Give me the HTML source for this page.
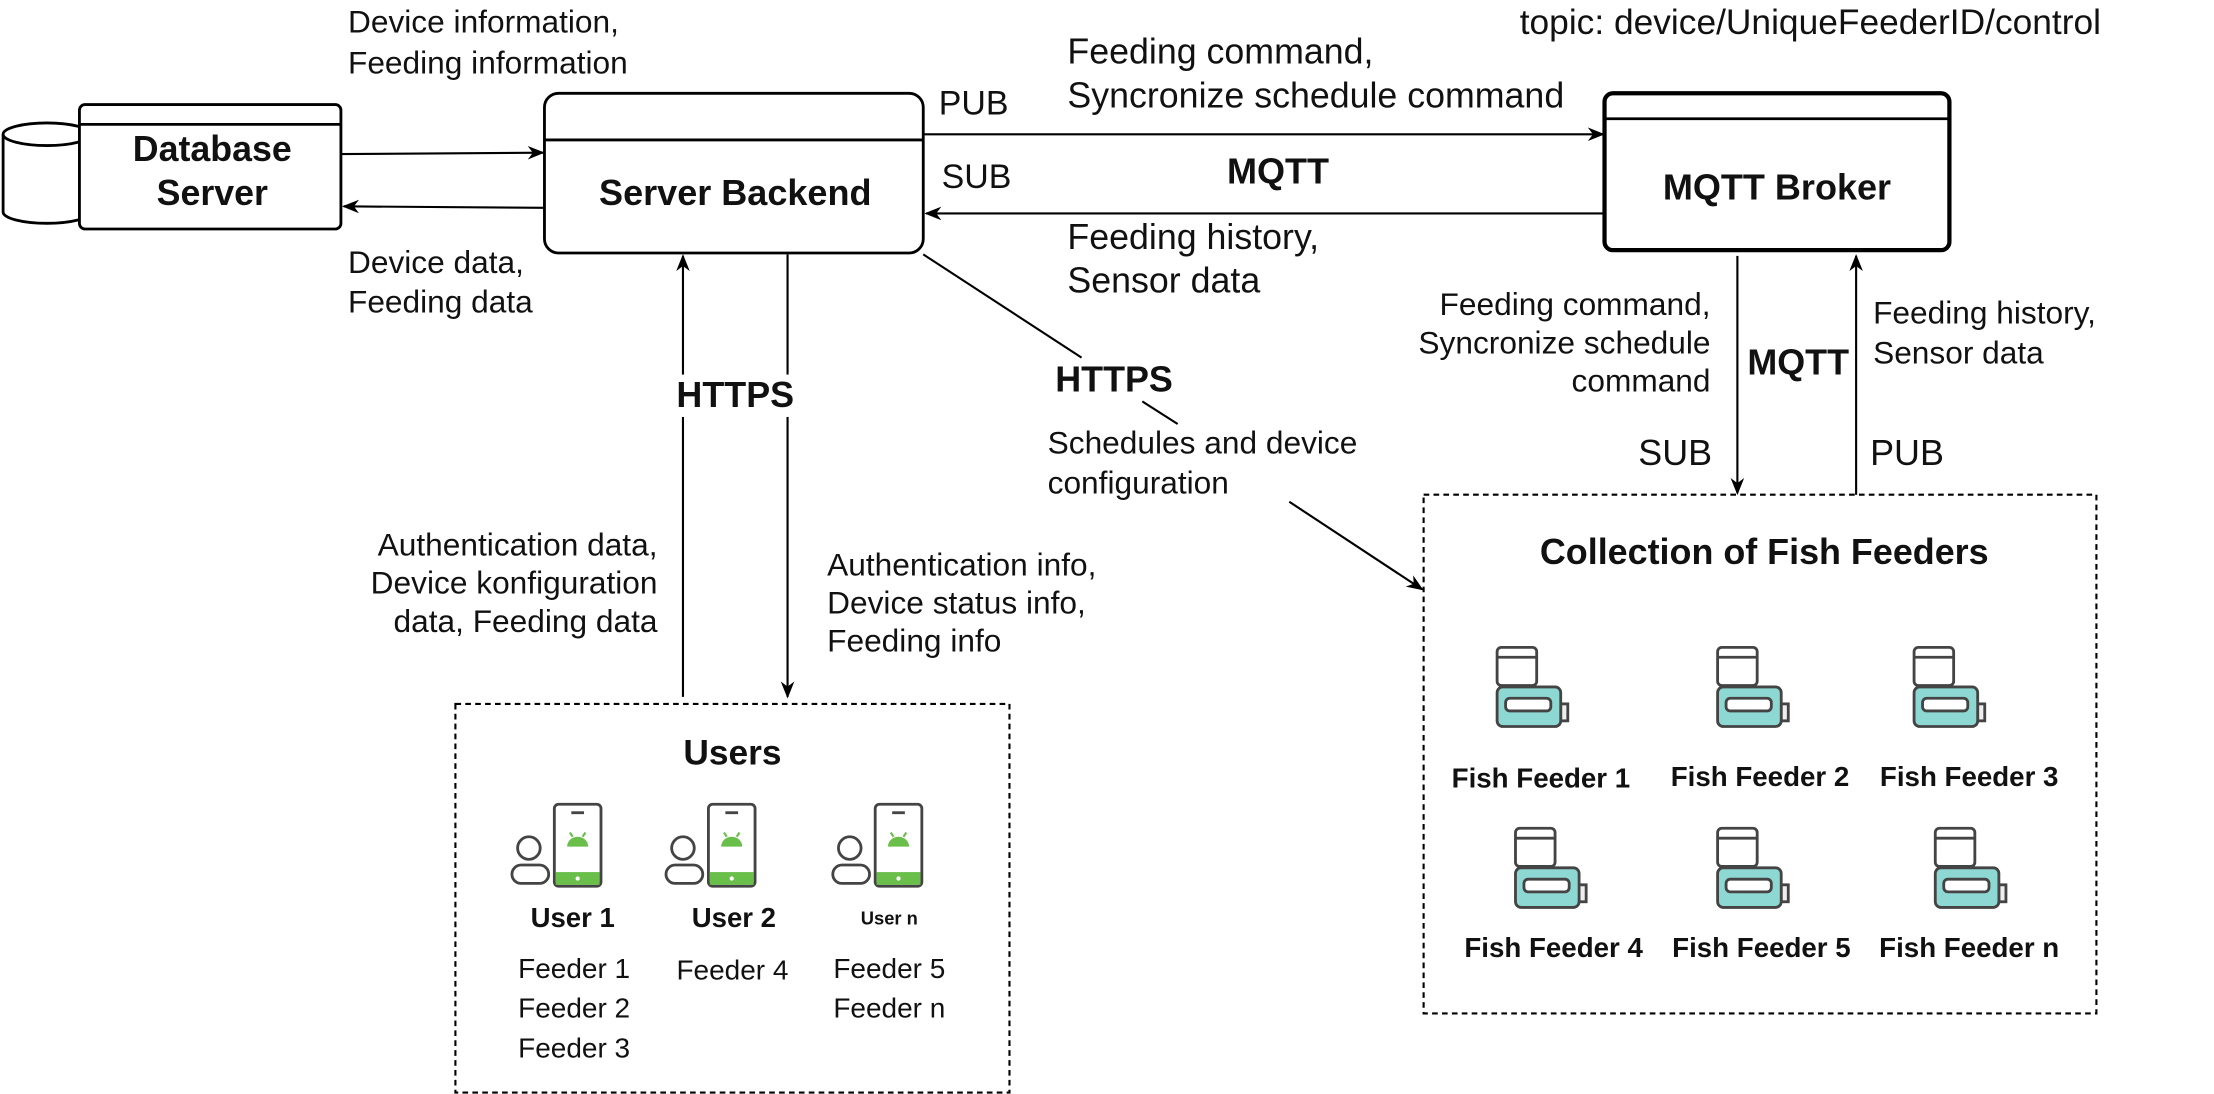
<!DOCTYPE html>
<html><head><meta charset="utf-8"><style>
html,body{margin:0;padding:0;background:#fff;}
svg{display:block;}
text{font-family:"Liberation Sans",Arial,sans-serif;fill:#111;}
.n{font-size:22.4px;}
.b{font-weight:bold;}
</style></head><body>
<svg width="2214" height="1094" viewBox="0 0 1566 774" xmlns="http://www.w3.org/2000/svg">
<defs>
<marker id="ar" viewBox="0 0 10 10" refX="9" refY="5" markerWidth="8" markerHeight="8" orient="auto"><path d="M0,1 L10,5 L0,9 L3,5 Z" fill="#000"/></marker>
<g id="feeder" stroke="#444" stroke-width="2">
<rect x="0" y="0" width="28" height="27" rx="3" fill="#fff"/>
<line x1="0" y1="7" x2="28" y2="7"/>
<rect x="45" y="40" width="5" height="12" fill="#eee"/>
<rect x="0" y="28" width="45" height="28" rx="4" fill="#8ed8d3"/>
<rect x="6" y="36" width="32" height="9" rx="3" fill="#fff"/>
</g>
<g id="user">
<circle cx="13" cy="31" r="8" fill="none" stroke="#444" stroke-width="2"/>
<rect x="1" y="43" width="26" height="13" rx="6.5" fill="none" stroke="#444" stroke-width="2"/>
<rect x="31" y="0" width="33" height="58" rx="3" fill="#fff" stroke="#444" stroke-width="2"/>
<rect x="32" y="48" width="31" height="9" fill="#6abf4b"/>
<circle cx="47.5" cy="52.5" r="1.5" fill="#fff"/>
<line x1="43" y1="6" x2="52" y2="6" stroke="#444" stroke-width="2"/>
<path d="M40,30 a7.5,7 0 0 1 15,0 Z" fill="#6abf4b"/>
<line x1="42" y1="20" x2="44" y2="23" stroke="#6abf4b" stroke-width="1.5"/>
<line x1="53" y1="20" x2="51" y2="23" stroke="#6abf4b" stroke-width="1.5"/>
</g>
</defs>

<!-- database -->
<path d="M2,95 L2,150 A31,8 0 0 0 64,150 L64,95" fill="#fff" stroke="#000" stroke-width="2"/>
<ellipse cx="33" cy="95" rx="31" ry="8" fill="#fff" stroke="#000" stroke-width="2"/>
<rect x="56" y="74" width="185" height="88" rx="4" fill="#fff" stroke="#000" stroke-width="2"/>
<line x1="56" y1="88" x2="241" y2="88" stroke="#000" stroke-width="2"/>
<text x="150" y="114" text-anchor="middle" class="b" style="font-size:25.3px">Database</text>
<text x="150" y="145" text-anchor="middle" class="b" style="font-size:25.3px">Server</text>

<!-- server backend -->
<rect x="385" y="66" width="268" height="113" rx="10" fill="#fff" stroke="#000" stroke-width="2"/>
<line x1="385" y1="99" x2="653" y2="99" stroke="#000" stroke-width="2"/>
<text x="520" y="145" text-anchor="middle" class="b" style="font-size:25.5px">Server Backend</text>

<!-- MQTT broker -->
<rect x="1135" y="66" width="244" height="111" rx="6" fill="#fff" stroke="#000" stroke-width="3"/>
<line x1="1135" y1="84" x2="1379" y2="84" stroke="#000" stroke-width="2"/>
<text x="1257" y="141" text-anchor="middle" class="b" style="font-size:25.5px">MQTT Broker</text>

<g stroke="#000" stroke-width="1.5" fill="none" marker-end="url(#ar)">
<path d="M241,109 L384,108"/>
<path d="M385,147 L243,146"/>
<path d="M653,95 L1134,95"/>
<path d="M1135,151 L655,151"/>
<path d="M483,493 L483,181"/>
<path d="M557,180 L557,493"/>
<path d="M912,355 L1006,417"/>
<path d="M1229,181 L1229,349"/>
<path d="M1313,350 L1313,181"/>
</g>
<g stroke="#000" stroke-width="1.5">
<line x1="653" y1="180" x2="765" y2="253"/>
<line x1="808" y1="284" x2="833" y2="300"/>
</g>

<text class="n" x="246" y="23">Device information,</text>
<text class="n" x="246" y="52">Feeding information</text>
<text class="n" x="246" y="193">Device data,</text>
<text class="n" x="246" y="221">Feeding data</text>
<text x="664" y="81" style="font-size:24px">PUB</text>
<text x="666" y="133" style="font-size:24px">SUB</text>
<text x="904" y="130" text-anchor="middle" class="b" style="font-size:25.5px">MQTT</text>
<text x="755" y="45" style="font-size:25.3px">Feeding command,</text>
<text x="755" y="76" style="font-size:25.3px">Syncronize schedule command</text>
<text x="755" y="176" style="font-size:25.3px">Feeding history,</text>
<text x="755" y="207" style="font-size:25.3px">Sensor data</text>
<text x="1075" y="24" style="font-size:25px">topic: device/UniqueFeederID/control</text>

<rect x="475" y="265" width="90" height="30" fill="#fff"/>
<text x="520" y="288" text-anchor="middle" class="b" style="font-size:25.4px">HTTPS</text>
<text x="788" y="277" text-anchor="middle" class="b" style="font-size:25.4px">HTTPS</text>
<text class="n" x="741" y="321">Schedules and device</text>
<text class="n" x="741" y="349">configuration</text>

<text class="n" x="465" y="393" text-anchor="end">Authentication data,</text>
<text class="n" x="465" y="420" text-anchor="end">Device konfiguration</text>
<text class="n" x="465" y="447" text-anchor="end">data, Feeding data</text>
<text class="n" x="585" y="407">Authentication info,</text>
<text class="n" x="585" y="434">Device status info,</text>
<text class="n" x="585" y="461">Feeding info</text>

<text class="n" x="1210" y="223" text-anchor="end">Feeding command,</text>
<text class="n" x="1210" y="250" text-anchor="end">Syncronize schedule</text>
<text class="n" x="1210" y="277" text-anchor="end">command</text>
<text x="1272" y="265" text-anchor="middle" class="b" style="font-size:25.4px">MQTT</text>
<text class="n" x="1325" y="229">Feeding history,</text>
<text class="n" x="1325" y="257">Sensor data</text>
<text x="1185" y="329" text-anchor="middle" style="font-size:25.4px">SUB</text>
<text x="1349" y="329" text-anchor="middle" style="font-size:25.4px">PUB</text>

<!-- users -->
<rect x="322" y="498" width="392" height="275" fill="none" stroke="#000" stroke-width="1.5" stroke-dasharray="4,3"/>
<text x="518" y="541" text-anchor="middle" class="b" style="font-size:25px">Users</text>
<use href="#user" x="361" y="569"/>
<use href="#user" x="470" y="569"/>
<use href="#user" x="588" y="569"/>
<text x="405" y="656" text-anchor="middle" class="b" style="font-size:19.5px">User 1</text>
<text x="519" y="656" text-anchor="middle" class="b" style="font-size:19.5px">User 2</text>
<text x="629" y="654" text-anchor="middle" class="b" style="font-size:13px">User n</text>
<text x="406" y="692" text-anchor="middle" style="font-size:19.8px">Feeder 1</text>
<text x="406" y="720" text-anchor="middle" style="font-size:19.8px">Feeder 2</text>
<text x="406" y="748" text-anchor="middle" style="font-size:19.8px">Feeder 3</text>
<text x="518" y="693" text-anchor="middle" style="font-size:19.8px">Feeder 4</text>
<text x="629" y="692" text-anchor="middle" style="font-size:19.8px">Feeder 5</text>
<text x="629" y="720" text-anchor="middle" style="font-size:19.8px">Feeder n</text>

<!-- feeders -->
<rect x="1007" y="350" width="476" height="367" fill="none" stroke="#000" stroke-width="1.5" stroke-dasharray="4,3"/>
<text x="1248" y="399" text-anchor="middle" class="b" style="font-size:25.4px">Collection of Fish Feeders</text>
<use href="#feeder" x="1059" y="458"/>
<use href="#feeder" x="1215" y="458"/>
<use href="#feeder" x="1354" y="458"/>
<use href="#feeder" x="1072" y="586"/>
<use href="#feeder" x="1215" y="586"/>
<use href="#feeder" x="1369" y="586"/>
<g class="b" style="font-size:19.6px" text-anchor="middle">
<text x="1090" y="557">Fish Feeder 1</text>
<text x="1245" y="556">Fish Feeder 2</text>
<text x="1393" y="556">Fish Feeder 3</text>
<text x="1099" y="677">Fish Feeder 4</text>
<text x="1246" y="677">Fish Feeder 5</text>
<text x="1393" y="677">Fish Feeder n</text>
</g>
</svg>
</body></html>
